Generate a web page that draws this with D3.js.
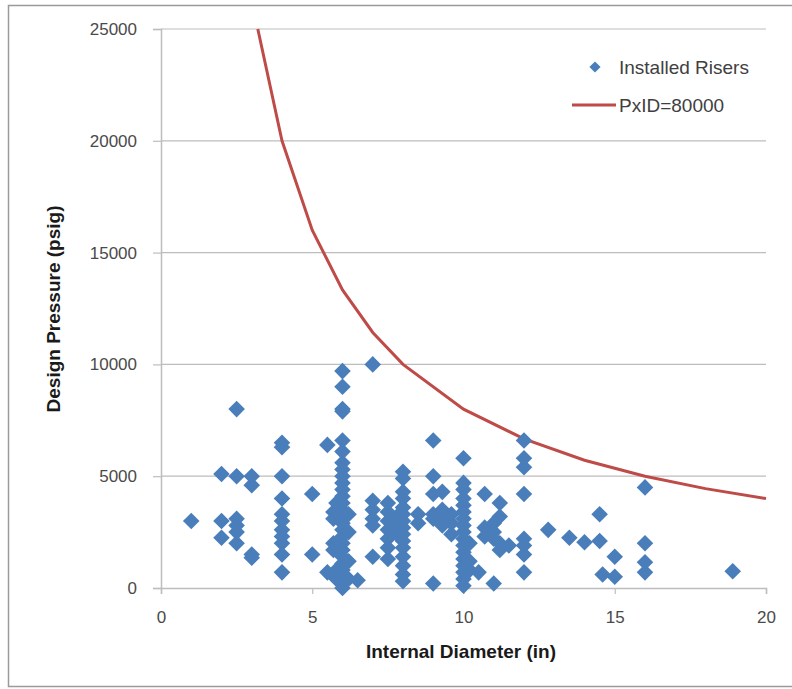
<head>
<meta charset="utf-8">
<title>Design Pressure vs Internal Diameter</title>
<script src="https://cdn.jsdelivr.net/npm/d3@7"></script>
<style>
body { margin: 0; background: #fff; }
text { font-family: "Liberation Sans", Arial, sans-serif; }
</style>
</head>
<body>
<script>

// installed risers: internal diameter (in) and design pressure (psig)
var riserDiameter = [
  1,
  2, 2, 2,
  2.5, 2.5, 2.5, 2.5, 2.5, 2.5,
  3, 3, 3, 3,
  4, 4, 4, 4, 4, 4, 4, 4, 4, 4, 4,
  5, 5,
  5.5, 5.5,
  5.7, 5.7, 5.7, 5.7,
  5.8, 5.8, 5.8,
  6, 6, 6, 6, 6, 6, 6, 6, 6, 6, 6, 6, 6, 6, 6, 6, 6, 6, 6, 6, 6, 6, 6, 6, 6, 6,
  6.2, 6.2, 6.2, 6.2,
  6.5,
  7, 7, 7, 7, 7, 7,
  7.5, 7.5, 7.5, 7.5, 7.5, 7.5, 7.5,
  7.8, 7.8, 7.8,
  8, 8, 8, 8, 8, 8, 8, 8, 8, 8, 8, 8, 8, 8, 8,
  8.5, 8.5,
  9, 9, 9, 9, 9, 9,
  9.3, 9.3, 9.3, 9.3,
  9.6, 9.6, 9.6,
  10, 10, 10, 10, 10, 10, 10, 10, 10, 10, 10, 10, 10, 10, 10, 10, 10,
  10.2, 10.2, 10.2,
  10.5,
  10.7, 10.7, 10.7,
  11, 11, 11, 11,
  11.2, 11.2, 11.2, 11.2,
  11.5,
  12, 12, 12, 12, 12, 12, 12, 12,
  12.8, 13.5, 14,
  14.5, 14.5, 14.6,
  15, 15,
  16, 16, 16, 16,
  18.9
];
var riserPressure = [
  3000,
  5100, 3000, 2250,
  8000, 5000, 3100, 2800, 2500, 2000,
  5000, 4600, 1500, 1350,
  6500, 6300, 5000, 4000, 3300, 3000, 2600, 2300, 2000, 1500, 700,
  4200, 1500,
  6400, 700,
  3400, 3100, 2000, 1700,
  3800, 800, 400,
  9700, 9000, 8000, 7900, 6600, 6100, 5600, 5300, 5000, 4700, 4400, 4100, 3800, 3500, 3200, 2900, 2600, 2300, 2000, 1700, 1400, 1100, 800, 500, 300, 0,
  3300, 2500, 1200, 400,
  350,
  10000, 3900, 3500, 3100, 2800, 1400,
  3800, 3400, 3000, 2600, 2200, 1800, 1300,
  3200, 2900, 2400,
  5200, 4900, 4300, 4000, 3600, 3300, 3000, 2700, 2400, 2100, 1800, 1400, 1000, 600, 300,
  3300, 2900,
  6600, 5000, 4200, 3300, 3100, 200,
  4300, 3500, 3000, 2800,
  3300, 2900, 2400,
  5800, 4700, 4400, 4000, 3700, 3400, 3100, 2800, 2500, 2200, 1900, 1600, 1300, 1000, 700, 400, 100,
  2000, 1200, 800,
  700,
  4200, 2700, 2300,
  2900, 2500, 2200, 200,
  3800, 3200, 2000, 1700,
  1900,
  6600, 5800, 5400, 4200, 2200, 1900, 1500, 700,
  2600, 2250, 2050,
  3300, 2100, 600,
  1400, 500,
  4500, 2000, 1150, 700,
  750
];

// PxID = 80000 limit line
var limitDiameter = [3.2, 4, 5, 6, 7, 8, 10, 12, 14, 16, 18, 20];
var limitPressure = [25000, 20000, 16000, 13333, 11429, 10000, 8000, 6667, 5714, 5000, 4444, 4000];

var xTicks = [0, 5, 10, 15, 20];
var yTicks = [0, 5000, 10000, 15000, 20000, 25000];

var w = 792, h = 689;
var margin = {top: 29, right: 26, bottom: 101, left: 161};

var svg = d3.select("body").append("svg")
    .attr("width", w)
    .attr("height", h);

// outer frame
svg.append("rect")
    .attr("x", 8.5).attr("y", 5.5)
    .attr("width", 800).attr("height", 681)
    .attr("fill", "none")
    .attr("stroke", "#9a9a9a")
    .attr("stroke-width", 1.5);

var x = d3.scaleLinear().domain([0, 20]).range([margin.left, w - margin.right]);
var y = d3.scaleLinear().domain([0, 25000]).range([h - margin.bottom, margin.top]);

// gridlines
svg.append("g")
    .selectAll("line")
    .data(yTicks.slice(1))
    .enter()
    .append("line")
    .attr("x1", x(0)).attr("x2", x(20))
    .attr("y1", function(d) { return y(d); })
    .attr("y2", function(d) { return y(d); })
    .attr("stroke", "#bdbdbd")
    .attr("stroke-width", 1.2);

var yAxis = svg.append("g")
    .attr("transform", "translate(" + x(0) + ",0)")
    .call(d3.axisLeft(y).tickValues(yTicks).tickSize(8).tickPadding(16).tickFormat(d3.format("d")));

var xAxis = svg.append("g")
    .attr("transform", "translate(0," + y(0) + ")")
    .call(d3.axisBottom(x).tickValues(xTicks).tickSize(6).tickPadding(17).tickFormat(d3.format("d")));

[xAxis, yAxis].forEach(function(a) {
  a.select(".domain").attr("stroke", "#bdbdbd").attr("stroke-width", 1.5);
  a.selectAll(".tick line").attr("stroke", "#bdbdbd").attr("stroke-width", 1.2);
  a.selectAll(".tick text")
      .attr("fill", "#4a4a4a")
      .style("font-size", "17px");
});

// limit curve
var line = d3.line()
    .x(function(d, i) { return x(limitDiameter[i]); })
    .y(function(d, i) { return y(limitPressure[i]); });

svg.append("path")
    .datum(limitDiameter)
    .attr("d", line)
    .attr("fill", "none")
    .attr("stroke", "#be4b48")
    .attr("stroke-width", 3);

// risers
var diamond = d3.symbol().type(d3.symbolDiamond2).size(175);

svg.append("g")
    .selectAll("path")
    .data(riserDiameter)
    .enter()
    .append("path")
    .attr("d", diamond)
    .attr("transform", function(d, i) {
      return "translate(" + x(d) + "," + y(riserPressure[i]) + ")";
    })
    .attr("fill", "#4a7ebb");

// axis titles
svg.append("text")
    .attr("x", 461).attr("y", 658)
    .attr("text-anchor", "middle")
    .style("font-size", "19px")
    .style("font-weight", "bold")
    .attr("fill", "#1a1a1a")
    .text("Internal Diameter (in)");

svg.append("text")
    .attr("transform", "translate(60,309) rotate(-90)")
    .attr("text-anchor", "middle")
    .style("font-size", "19px")
    .style("font-weight", "bold")
    .attr("fill", "#1a1a1a")
    .text("Design Pressure (psig)");

// legend
var legend = svg.append("g");
legend.append("path")
    .attr("d", d3.symbol().type(d3.symbolDiamond2).size(80))
    .attr("transform", "translate(595,67)")
    .attr("fill", "#4a7ebb");
legend.append("text")
    .attr("x", 619).attr("y", 74)
    .style("font-size", "19px")
    .attr("fill", "#404040")
    .text("Installed Risers");
legend.append("line")
    .attr("x1", 572).attr("x2", 616)
    .attr("y1", 105).attr("y2", 105)
    .attr("stroke", "#be4b48")
    .attr("stroke-width", 3);
legend.append("text")
    .attr("x", 619).attr("y", 112)
    .style("font-size", "19px")
    .attr("fill", "#404040")
    .text("PxID=80000");

</script>
</body>
